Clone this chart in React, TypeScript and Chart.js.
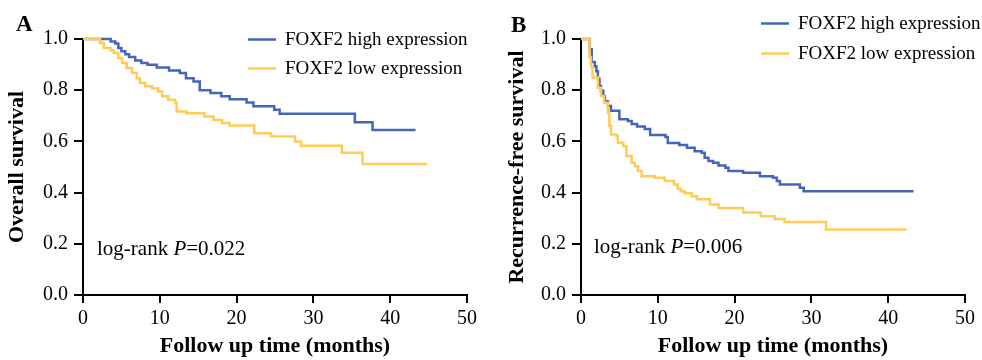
import React, { useEffect, useRef } from "react";
import { Chart, registerables } from "chart.js";

Chart.register(...registerables);

// ---------- data ----------
const seriesLabels = ["FOXF2 high expression", "FOXF2 low expression"];
const xTicks = [0, 10, 20, 30, 40, 50];
const yTicks = [0, 0.2, 0.4, 0.6, 0.8, 1.0];

// Panel A: overall survival
const osHighTime = [0, 3.6, 4.2, 4.6, 5.0, 5.5, 6.0, 6.8, 7.6, 8.4, 9.6, 11.2, 12.6, 13.4, 14.4, 15.2, 16.6, 18.0, 19.1, 21.3, 22.2, 24.9, 25.6, 35.4, 37.7, 43.3];
const osHighSurv = [1.0, 0.99, 0.982, 0.965, 0.952, 0.94, 0.93, 0.916, 0.906, 0.899, 0.889, 0.877, 0.867, 0.847, 0.834, 0.8, 0.789, 0.776, 0.765, 0.752, 0.737, 0.724, 0.708, 0.675, 0.645, 0.645];
const osLowTime = [0, 2.2, 2.7, 3.6, 4.0, 4.6, 5.1, 5.7, 6.4, 7.0, 7.4, 8.1, 9.0, 9.8, 10.3, 11.1, 12.0, 12.2, 13.5, 15.8, 17.0, 18.1, 19.1, 22.3, 24.5, 27.6, 28.4, 33.7, 36.4, 44.8];
const osLowSurv = [1.0, 0.984, 0.965, 0.955, 0.945, 0.926, 0.906, 0.887, 0.867, 0.847, 0.828, 0.815, 0.808, 0.795, 0.776, 0.763, 0.75, 0.717, 0.71, 0.697, 0.684, 0.672, 0.662, 0.632, 0.619, 0.6, 0.583, 0.556, 0.512, 0.512];

// Panel B: recurrence-free survival
const rfsHighTime = [0, 1.1, 1.4, 1.8, 2.0, 2.2, 2.4, 2.6, 2.9, 3.1, 3.5, 3.9, 5.0, 6.1, 6.6, 7.3, 8.3, 9.0, 11.0, 11.3, 12.8, 13.8, 14.8, 15.7, 16.1, 16.6, 17.2, 17.9, 18.8, 19.2, 21.1, 23.3, 25.0, 25.5, 25.9, 28.5, 29.0, 43.3];
const rfsHighSurv = [1.0, 0.96, 0.91, 0.894, 0.874, 0.845, 0.816, 0.798, 0.777, 0.757, 0.738, 0.72, 0.687, 0.68, 0.668, 0.658, 0.648, 0.625, 0.617, 0.594, 0.586, 0.575, 0.562, 0.556, 0.536, 0.523, 0.517, 0.506, 0.497, 0.484, 0.478, 0.464, 0.458, 0.445, 0.432, 0.419, 0.405, 0.405];
const rfsLowTime = [0, 1.1, 1.3, 1.5, 2.2, 2.6, 3.0, 3.5, 3.7, 3.9, 4.6, 4.8, 5.5, 5.9, 6.6, 7.0, 7.4, 7.9, 9.6, 10.9, 12.1, 12.6, 13.0, 13.5, 14.4, 15.1, 16.8, 17.9, 21.1, 23.4, 25.2, 26.5, 31.9, 42.4];
const rfsLowSurv = [1.0, 0.93, 0.894, 0.85, 0.81, 0.777, 0.751, 0.712, 0.66, 0.627, 0.621, 0.595, 0.582, 0.543, 0.517, 0.503, 0.484, 0.464, 0.458, 0.445, 0.432, 0.415, 0.405, 0.397, 0.386, 0.374, 0.354, 0.34, 0.322, 0.308, 0.297, 0.285, 0.256, 0.256];

const BLUE = "#4565B8";
const YELLOW = "#FFCC55";
const SERIF = '"Liberation Serif", "Times New Roman", serif';

type PanelCfg = {
  letter: string;
  yTitle: string;
  pValue: string;
  high: [number[], number[]];
  low: [number[], number[]];
  yAxisWidth: number;
  rightPad: number;
  yTitlePad: number;
  letterPos: [number, number];
  legendPos: [number, number, number, number]; // lineX0, lineX1, textX, y0
  legendGap: number;
  pPos: [number, number];
};

const panels: PanelCfg[] = [
  {
    letter: "A",
    yTitle: "Overall survival",
    pValue: "=0.022",
    high: [osHighTime, osHighSurv],
    low: [osLowTime, osLowSurv],
    yAxisWidth: 83,
    rightPad: 24,
    yTitlePad: 5,
    letterPos: [16, 25],
    legendPos: [248, 276, 285, 39.5],
    legendGap: 29,
    pPos: [97, 249],
  },
  {
    letter: "B",
    yTitle: "Recurrence-free survival",
    pValue: "=0.006",
    high: [rfsHighTime, rfsHighSurv],
    low: [rfsLowTime, rfsLowSurv],
    yAxisWidth: 90,
    rightPad: 17,
    yTitlePad: 14,
    letterPos: [20, 26],
    legendPos: [270, 298, 307, 23.5],
    legendGap: 30,
    pPos: [103, 247],
  },
];

const toPts = (t: number[], s: number[]) => t.map((x, i) => ({ x, y: s[i] }));

const annotPlugin = {
  id: "annot",
  afterDraw(chart: any, _args: any, opts: any) {
    const cfg: PanelCfg = opts.cfg;
    const ctx = chart.ctx as CanvasRenderingContext2D;
    ctx.save();
    ctx.fillStyle = "#000";
    ctx.textBaseline = "middle";
    ctx.textAlign = "left";
    // panel letter
    ctx.font = `bold 23px ${SERIF}`;
    ctx.fillText(cfg.letter, cfg.letterPos[0], cfg.letterPos[1]);
    // legend
    const [lx0, lx1, tx, y0] = cfg.legendPos;
    const colors = [BLUE, YELLOW];
    ctx.font = `19px ${SERIF}`;
    seriesLabels.forEach((lab, i) => {
      const y = y0 + i * cfg.legendGap;
      ctx.strokeStyle = colors[i];
      ctx.lineWidth = 2.5;
      ctx.beginPath();
      ctx.moveTo(lx0, y);
      ctx.lineTo(lx1, y);
      ctx.stroke();
      ctx.fillStyle = "#000";
      ctx.fillText(lab, tx, y + 1);
    });
    // log-rank
    let x = cfg.pPos[0];
    const y = cfg.pPos[1];
    ctx.font = `21px ${SERIF}`;
    const a = "log-rank ";
    ctx.fillText(a, x, y);
    x += ctx.measureText(a).width;
    ctx.font = `italic 21px ${SERIF}`;
    ctx.fillText("P", x, y);
    x += ctx.measureText("P").width;
    ctx.font = `21px ${SERIF}`;
    ctx.fillText(cfg.pValue, x, y);
    ctx.restore();
  },
};

function Panel({ cfg, left }: { cfg: PanelCfg; left: number }) {
  const ref = useRef<HTMLCanvasElement>(null);
  useEffect(() => {
    if (!ref.current) return;
    const chart = new Chart(ref.current, {
      type: "line",
      data: {
        datasets: [
          {
            label: seriesLabels[1],
            data: toPts(cfg.low[0], cfg.low[1]),
            borderColor: YELLOW,
            borderWidth: 2.5,
            pointRadius: 0,
            stepped: "before",
            fill: false,
            clip: false as any,
          },
          {
            label: seriesLabels[0],
            data: toPts(cfg.high[0], cfg.high[1]),
            borderColor: BLUE,
            borderWidth: 2.5,
            pointRadius: 0,
            stepped: "before",
            fill: false,
            clip: false as any,
          },
        ],
      },
      options: {
        animation: false,
        responsive: false,
        layout: { padding: { left: 0, top: 39, right: cfg.rightPad, bottom: 0 } },
        plugins: {
          legend: { display: false },
          tooltip: { enabled: false },
          annot: { cfg },
        } as any,
        scales: {
          x: {
            type: "linear",
            min: xTicks[0],
            max: xTicks[xTicks.length - 1],
            afterBuildTicks: (axis: any) => {
              axis.ticks = xTicks.map((v) => ({ value: v }));
            },
            afterFit: (axis: any) => {
              axis.height = 65;
            },
            ticks: {
              color: "#000",
              font: { family: SERIF, size: 20 },
              padding: 4,
              maxRotation: 0,
            },
            grid: {
              drawOnChartArea: false,
              drawTicks: true,
              tickLength: 8,
              color: "#000",
              lineWidth: 2,
            },
            border: { display: true, color: "#000", width: 2 },
            title: {
              display: true,
              text: "Follow up time (months)",
              color: "#000",
              font: { family: SERIF, size: 22, weight: "bold" },
              padding: { top: 0, bottom: 0 },
            },
          },
          y: {
            type: "linear",
            min: yTicks[0],
            max: yTicks[yTicks.length - 1],
            afterBuildTicks: (axis: any) => {
              axis.ticks = yTicks.map((v) => ({ value: v }));
            },
            afterFit: (axis: any) => {
              axis.width = cfg.yAxisWidth;
            },
            ticks: {
              color: "#000",
              font: { family: SERIF, size: 20 },
              padding: 6,
              callback: (v: any) => Number(v).toFixed(1),
            },
            grid: {
              drawOnChartArea: false,
              drawTicks: true,
              tickLength: 9,
              color: "#000",
              lineWidth: 2,
            },
            border: { display: true, color: "#000", width: 2 },
            title: {
              display: true,
              text: cfg.yTitle,
              color: "#000",
              font: { family: SERIF, size: 22, weight: "bold" },
              padding: { top: cfg.yTitlePad - 1, bottom: 0 },
            },
          },
        },
      },
      plugins: [annotPlugin],
    });
    return () => chart.destroy();
  }, [cfg]);
  return (
    <canvas
      ref={ref}
      width={491}
      height={360}
      style={{ position: "absolute", left, top: 0, width: 491, height: 360 }}
    />
  );
}

export default function App() {
  return (
    <div
      style={{
        position: "fixed",
        left: 0,
        top: 0,
        width: 982,
        height: 360,
        background: "#fff",
      }}
    >
      <Panel cfg={panels[0]} left={0} />
      <Panel cfg={panels[1]} left={491} />
    </div>
  );
}
